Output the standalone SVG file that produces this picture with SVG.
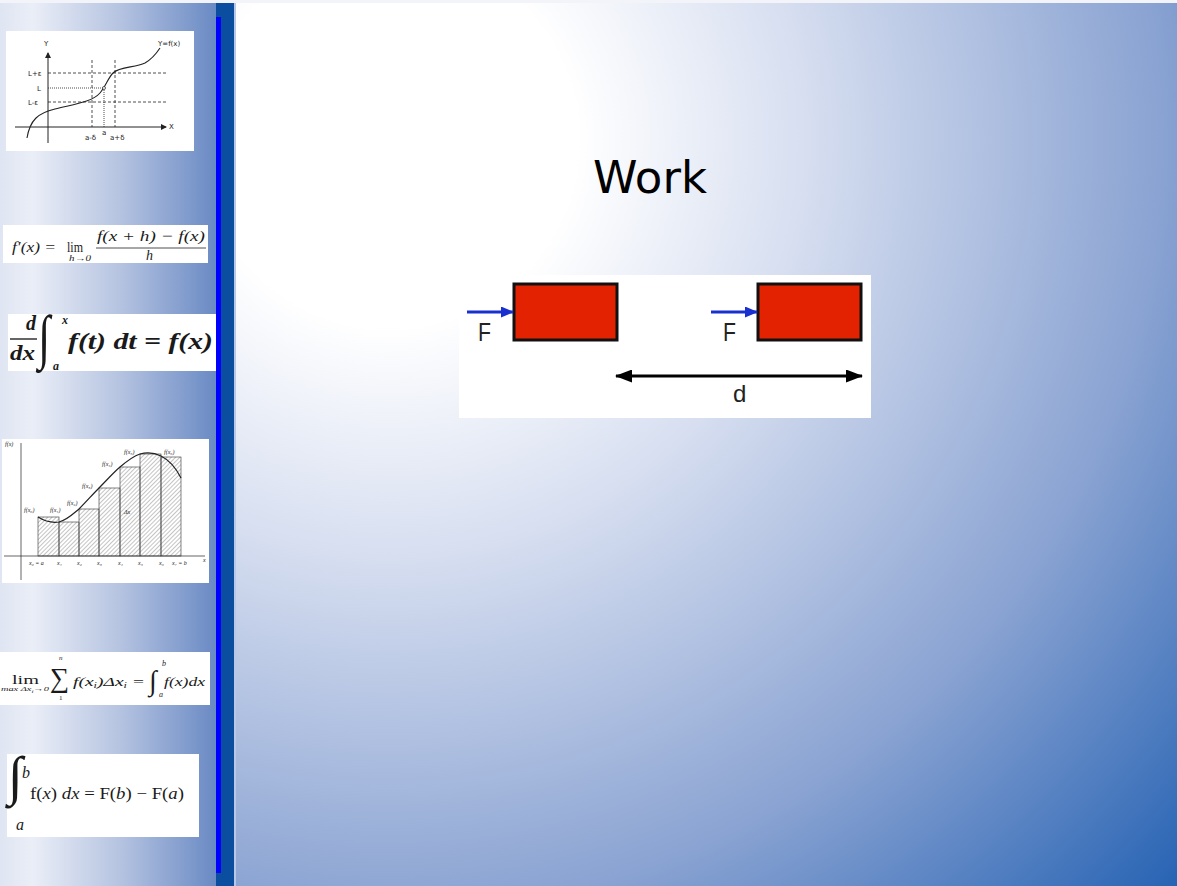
<svg xmlns="http://www.w3.org/2000/svg" width="1177" height="886" viewBox="0 0 1177 886">
<defs>
<radialGradient id="bgMain" gradientUnits="userSpaceOnUse" cx="390" cy="140" r="1100">
<stop offset="0" stop-color="#ffffff"/>
<stop offset="0.17" stop-color="#ffffff"/>
<stop offset="0.38" stop-color="#d6def0"/>
<stop offset="0.7" stop-color="#8aa3d2"/>
<stop offset="1" stop-color="#2260b2"/>
</radialGradient>
<linearGradient id="bgSide" x1="0" y1="0" x2="1" y2="0">
<stop offset="0" stop-color="#dfe5f2"/>
<stop offset="0.15" stop-color="#eaeef7"/>
<stop offset="0.55" stop-color="#b6c4e1"/>
<stop offset="1" stop-color="#6a8ac4"/>
</linearGradient>
<pattern id="hatch" patternUnits="userSpaceOnUse" width="3" height="3" patternTransform="rotate(45)">
<line x1="0" y1="0" x2="0" y2="3" stroke="#555" stroke-width="0.7"/>
</pattern>
<marker id="blueHead" markerWidth="13" markerHeight="11" refX="12" refY="5.5" orient="auto" markerUnits="userSpaceOnUse">
<path d="M0,0 L13,5.5 L0,11 Z" fill="#1a2fd0"/>
</marker>
<marker id="blackHead" markerWidth="17" markerHeight="13" refX="16" refY="6.5" orient="auto-start-reverse" markerUnits="userSpaceOnUse">
<path d="M0,0 L17,6.5 L0,13 Z" fill="#000"/>
</marker>
<marker id="tinyHead" markerWidth="6" markerHeight="6" refX="5" refY="3" orient="auto" markerUnits="userSpaceOnUse">
<path d="M0,0 L6,3 L0,6 Z" fill="#222"/>
</marker>
<style>
.box{fill:#ffffff}
.serif{font-family:"Liberation Serif","DejaVu Serif",serif;fill:#1a1a1a}
.it{font-style:italic}
.tiny{font-family:"Liberation Serif",serif;font-style:italic;font-size:6px;fill:#222}
.hand{font-family:"DejaVu Sans",sans-serif;font-size:7px;fill:#222}
.ln{stroke:#222;fill:none}
.dash{stroke:#222;stroke-width:0.8;stroke-dasharray:3 2;fill:none}
.dot{stroke:#222;stroke-width:0.8;stroke-dasharray:1 1;fill:none}
.block{fill:#e22200;stroke:#111;stroke-width:3}
.lbl{font-family:"Liberation Sans",Arial,sans-serif;fill:#222}
</style>
</defs>

<g id="background">
<rect x="0" y="0" width="1177" height="886" fill="#f2f4fa"/>
<rect x="234" y="3" width="943" height="883" fill="url(#bgMain)"/>
<rect x="0" y="3" width="216" height="883" fill="url(#bgSide)"/>
<rect x="216" y="3" width="18" height="883" fill="#0b4ea0"/>
<rect x="216" y="17" width="5" height="856" fill="#0000ff"/>
<rect x="234" y="3" width="2" height="883" fill="#b8c8e6"/>
</g>

<g id="graph-limit">
<rect class="box" x="6" y="31" width="188" height="120"/>
<line class="ln" x1="48" y1="143" x2="48" y2="53" stroke-width="1" marker-end="url(#tinyHead)"/>
<line class="ln" x1="15" y1="127" x2="166" y2="127" stroke-width="1" marker-end="url(#tinyHead)"/>
<text class="hand" x="44" y="46">Y</text>
<text class="hand" x="169" y="129">X</text>
<text class="hand" x="158" y="46" font-size="6">Y=f(x)</text>
<line class="dash" x1="48" y1="73" x2="166" y2="73"/>
<line class="dash" x1="48" y1="102" x2="166" y2="102"/>
<line class="dot" x1="48" y1="88" x2="103" y2="88"/>
<line class="dash" x1="92" y1="60" x2="92" y2="127"/>
<line class="dash" x1="115" y1="60" x2="115" y2="127"/>
<line class="dot" x1="104" y1="90" x2="104" y2="127"/>
<path class="ln" stroke-width="1.1" d="M27,138 C30,120 38,113 55,109 C75,104 92,102 100,93 C106,86 108,78 113,73 C120,66 135,68 145,63 C152,59 156,54 160,48"/>
<circle cx="104" cy="88" r="1.5" fill="#fff" stroke="#222" stroke-width="0.7"/>
<text class="hand" x="28" y="76">L+ε</text>
<text class="hand" x="37" y="91">L</text>
<text class="hand" x="28" y="105">L-ε</text>
<text class="hand" x="85" y="140">a-δ</text>
<text class="hand" x="102" y="135">a</text>
<text class="hand" x="110" y="140">a+δ</text>
</g>

<g id="formula-derivative">
<rect class="box" x="3" y="225" width="205" height="38"/>
<text class="serif it" x="12" y="252" font-size="15" textLength="44" lengthAdjust="spacingAndGlyphs">f′(x) =</text>
<text class="serif" x="67" y="252" font-size="14" textLength="16" lengthAdjust="spacingAndGlyphs">lim</text>
<text class="serif it" x="69" y="261" font-size="8" textLength="22" lengthAdjust="spacingAndGlyphs">h→0</text>
<text class="serif it" x="97" y="241" font-size="15" textLength="108" lengthAdjust="spacingAndGlyphs">f(x + h) − f(x)</text>
<line x1="96" y1="248" x2="206" y2="248" stroke="#222" stroke-width="0.8"/>
<text class="serif it" x="146" y="260" font-size="14">h</text>
</g>

<g id="formula-ftc1">
<rect class="box" x="8" y="314" width="208" height="57"/>
<text class="serif it" x="26" y="330" font-size="20" font-weight="bold">d</text>
<line x1="10" y1="339" x2="37" y2="339" stroke="#111" stroke-width="1.3"/>
<text class="serif it" x="10" y="360" font-size="20" font-weight="bold" textLength="25" lengthAdjust="spacingAndGlyphs">dx</text>
<text class="serif" transform="translate(38,357) scale(1.1,1.5)" font-size="40">∫</text>
<text class="serif it" x="62" y="324" font-size="12" font-weight="bold">x</text>
<text class="serif it" x="53" y="370" font-size="12" font-weight="bold">a</text>
<text class="serif it" x="68" y="349" font-size="24" font-weight="bold" textLength="145" lengthAdjust="spacingAndGlyphs">f(t) dt = f(x)</text>
</g>

<g id="graph-riemann">
<rect class="box" x="2" y="439" width="207" height="144"/>
<rect x="38" y="517" width="21" height="39" fill="url(#hatch)" stroke="#333" stroke-width="0.6"/>
<rect x="59" y="522" width="20" height="34" fill="url(#hatch)" stroke="#333" stroke-width="0.6"/>
<rect x="79" y="509" width="20" height="47" fill="url(#hatch)" stroke="#333" stroke-width="0.6"/>
<rect x="99" y="488" width="21" height="68" fill="url(#hatch)" stroke="#333" stroke-width="0.6"/>
<rect x="120" y="467" width="20" height="89" fill="url(#hatch)" stroke="#333" stroke-width="0.6"/>
<rect x="140" y="454" width="21" height="102" fill="url(#hatch)" stroke="#333" stroke-width="0.6"/>
<rect x="161" y="457" width="20" height="99" fill="url(#hatch)" stroke="#333" stroke-width="0.6"/>
<line class="ln" x1="21" y1="443" x2="21" y2="580" stroke-width="0.7"/>
<line class="ln" x1="4" y1="556" x2="205" y2="556" stroke-width="0.7"/>
<path class="ln" stroke-width="1.2" d="M38,517 C46,522 52,523 59,522 C67,520 73,514 79,509 C86,502 93,494 99,488 C106,481 113,473 120,467 C127,461 134,456 140,454 C147,452 155,453 161,456 C169,460 176,468 181,478"/>
<text class="tiny" x="5" y="446">f(x)</text>
<text class="tiny" x="203" y="562">x</text>
<text class="tiny" x="24" y="512">f(x₀)</text>
<text class="tiny" x="50" y="512">f(x₁)</text>
<text class="tiny" x="67" y="505">f(x₂)</text>
<text class="tiny" x="82" y="488">f(x₃)</text>
<text class="tiny" x="102" y="466">f(x₄)</text>
<text class="tiny" x="124" y="454">f(x₅)</text>
<text class="tiny" x="164" y="454">f(x₆)</text>
<text class="tiny" x="124" y="514">Δx</text>
<text class="tiny" x="29" y="565">x₀ = a</text>
<text class="tiny" x="57" y="565">x₁</text>
<text class="tiny" x="77" y="565">x₂</text>
<text class="tiny" x="97" y="565">x₃</text>
<text class="tiny" x="118" y="565">x₄</text>
<text class="tiny" x="138" y="565">x₅</text>
<text class="tiny" x="159" y="565">x₆</text>
<text class="tiny" x="172" y="565">x₇ = b</text>
</g>

<g id="formula-riemann-sum">
<rect class="box" x="0" y="652" width="210" height="53"/>
<text class="serif" x="12" y="684" font-size="12" textLength="27" lengthAdjust="spacingAndGlyphs">lim</text>
<text class="serif it" x="1" y="691" font-size="7" textLength="48" lengthAdjust="spacingAndGlyphs">max Δx<tspan font-size="5" dy="1.5">i</tspan><tspan dy="-1.5">→0</tspan></text>
<text class="serif" x="50" y="687" font-size="27">∑</text>
<text class="serif it" x="59" y="660" font-size="7">n</text>
<text class="serif" x="59" y="700" font-size="7">1</text>
<text class="serif it" x="73" y="686" font-size="13" textLength="72" lengthAdjust="spacingAndGlyphs">f(x<tspan font-size="8" dy="2">i</tspan><tspan dy="-2">)Δx</tspan><tspan font-size="8" dy="2">i</tspan><tspan dy="-2"> =</tspan></text>
<text class="serif" x="149" y="690" font-size="28">∫</text>
<text class="serif it" x="162" y="666" font-size="8">b</text>
<text class="serif it" x="159" y="697" font-size="8">a</text>
<text class="serif it" x="164" y="686" font-size="13" textLength="41" lengthAdjust="spacingAndGlyphs">f(x)dx</text>
</g>

<g id="formula-ftc2">
<rect class="box" x="7" y="754" width="192" height="83"/>
<text class="serif" x="8" y="794" font-size="54">∫</text>
<text class="serif it" x="22" y="778" font-size="16">b</text>
<text class="serif it" x="16" y="830" font-size="16">a</text>
<text class="serif" x="30" y="799" font-size="17" textLength="154" lengthAdjust="spacingAndGlyphs">f(<tspan font-style="italic">x</tspan>) <tspan font-style="italic">dx</tspan> = F(<tspan font-style="italic">b</tspan>) − F(<tspan font-style="italic">a</tspan>)</text>
</g>

<g id="title">
<text x="650" y="193" text-anchor="middle" font-family="DejaVu Sans, sans-serif" font-size="45" fill="#000">Work</text>
</g>

<g id="work-figure">
<rect class="box" x="459" y="275" width="412" height="143"/>
<rect class="block" x="514" y="284" width="103" height="56"/>
<rect class="block" x="758" y="284" width="103" height="56"/>
<text class="lbl" x="478" y="341" font-size="25" textLength="13" lengthAdjust="spacingAndGlyphs">F</text>
<text class="lbl" x="723" y="341" font-size="25" textLength="13" lengthAdjust="spacingAndGlyphs">F</text>
<text class="lbl" x="733" y="402" font-size="24">d</text>
</g>

<g id="connectors">
<line x1="467" y1="312" x2="513" y2="312" stroke="#1a2fd0" stroke-width="3" marker-end="url(#blueHead)"/>
<line x1="711" y1="312" x2="757" y2="312" stroke="#1a2fd0" stroke-width="3" marker-end="url(#blueHead)"/>
<line x1="616" y1="376" x2="862" y2="376" stroke="#000" stroke-width="3" marker-start="url(#blackHead)" marker-end="url(#blackHead)"/>
</g>
</svg>
